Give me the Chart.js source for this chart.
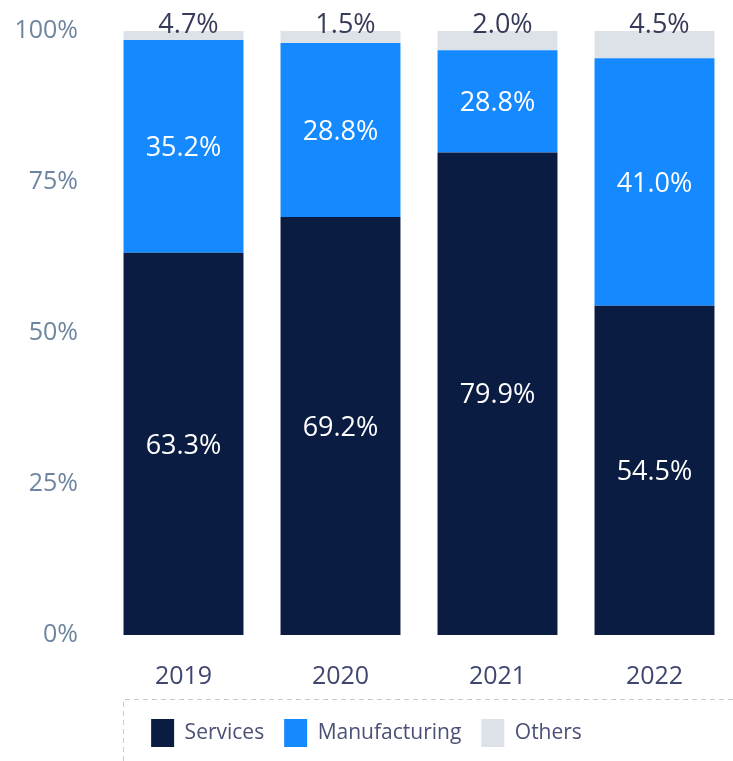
<!DOCTYPE html>
<html>
<head>
<meta charset="utf-8">
<script src="https://cdn.jsdelivr.net/npm/chart.js@4.4.1/dist/chart.umd.min.js"></script>
<style>
  html, body { margin: 0; padding: 0; background: #fff; }
  #wrap { width: 733px; height: 761px; position: relative; }
</style>
</head>
<body>
<div id="wrap"><canvas id="shares"></canvas></div>
<script>
// categories
var years = ["2019", "2020", "2021", "2022"];

// bar heights (%) as drawn in the picture
var services = [63.3, 69.2, 79.9, 54.5];
var manufacturing = [35.2, 28.8, 16.9, 41.0];
var others = [1.5, 2.0, 3.2, 4.5];

// value labels printed on the bars
var servicesText = ["63.3%", "69.2%", "79.9%", "54.5%"];
var manufacturingText = ["35.2%", "28.8%", "28.8%", "41.0%"];
var othersText = ["4.7%", "1.5%", "2.0%", "4.5%"];

var yTicks = [0, 25, 50, 75, 100];

var FONT = "'Open Sans', 'Noto Sans', sans-serif";

// value labels inside / above the bars
var barLabels = {
    id: 'barLabels',
    afterDatasetsDraw: function (chart) {
        var ctx = chart.ctx;
        var texts = [servicesText, manufacturingText, othersText];
        ctx.save();
        ctx.font = '27px ' + FONT;
        ctx.textAlign = 'center';
        ctx.textBaseline = 'middle';
        chart.data.datasets.forEach(function (ds, i) {
            var meta = chart.getDatasetMeta(i);
            meta.data.forEach(function (bar, j) {
                if (i < 2) {
                    ctx.fillStyle = '#ffffff';
                    ctx.fillText(texts[i][j], bar.x, (bar.y + bar.base) / 2 + 2);
                } else {
                    ctx.fillStyle = '#363b59';
                    ctx.fillText(texts[i][j], bar.x + 5, chart.chartArea.top - 6);
                }
            });
        });
        ctx.restore();
    }
};

// dashed frame around the legend
var legendFrame = {
    id: 'legendFrame',
    afterDraw: function (chart) {
        var ctx = chart.ctx;
        var top = chart.legend.top;
        ctx.save();
        ctx.strokeStyle = '#c6cbd6';
        ctx.lineWidth = 1;
        ctx.setLineDash([5, 4]);
        ctx.beginPath();
        ctx.moveTo(733, top + 0.5);
        ctx.lineTo(123.5, top + 0.5);
        ctx.lineTo(123.5, 761);
        ctx.stroke();
        ctx.restore();
    }
};

// fixed legend height
var legendHeight = {
    id: 'legendHeight',
    beforeInit: function (chart) {
        var fit = chart.legend.fit;
        chart.legend.fit = function () {
            fit.call(this);
            this.height = 62;
        };
    }
};

var ctx = document.getElementById('shares').getContext('2d');
var sharesChart = new Chart(ctx, {
    type: 'bar',
    data: {
        labels: years,
        datasets: [
            { label: 'Services', data: services, backgroundColor: '#0b1c42' },
            { label: 'Manufacturing', data: manufacturing, backgroundColor: '#1589ff' },
            { label: 'Others', data: others, backgroundColor: '#dde1e8' }
        ]
    },
    options: {
        responsive: true,
        maintainAspectRatio: false,
        animation: false,
        layout: { padding: { top: 31, right: 0, bottom: 0, left: 0 } },
        datasets: {
            bar: { categoryPercentage: 1, barPercentage: 0.764, borderWidth: 0 }
        },
        scales: {
            x: {
                stacked: true,
                grid: { display: false, drawTicks: false },
                border: { display: false },
                ticks: {
                    color: '#3f4670',
                    font: { family: FONT, size: 25 },
                    padding: 27
                },
                afterFit: function (scale) {
                    scale.height = 64;
                    scale.paddingLeft = 0;
                    scale.paddingRight = 0;
                }
            },
            y: {
                stacked: true,
                min: 0,
                max: 100,
                grid: { display: false, drawTicks: false },
                border: { display: false },
                afterBuildTicks: function (scale) {
                    scale.ticks = yTicks.map(function (v) { return { value: v }; });
                },
                ticks: {
                    color: '#6e85a0',
                    font: { family: FONT, size: 25 },
                    padding: 27,
                    callback: function (v) { return v + '%'; }
                },
                afterFit: function (scale) {
                    scale.width = 105;
                    scale.paddingTop = 0;
                    scale.paddingBottom = 0;
                }
            }
        },
        plugins: {
            legend: {
                position: 'bottom',
                labels: {
                    boxWidth: 23,
                    boxHeight: 28,
                    padding: 20,
                    color: '#4a5076',
                    font: { family: FONT, size: 21 }
                }
            },
            tooltip: { enabled: false }
        }
    },
    plugins: [barLabels, legendFrame, legendHeight]
});
</script>
</body>
</html>
